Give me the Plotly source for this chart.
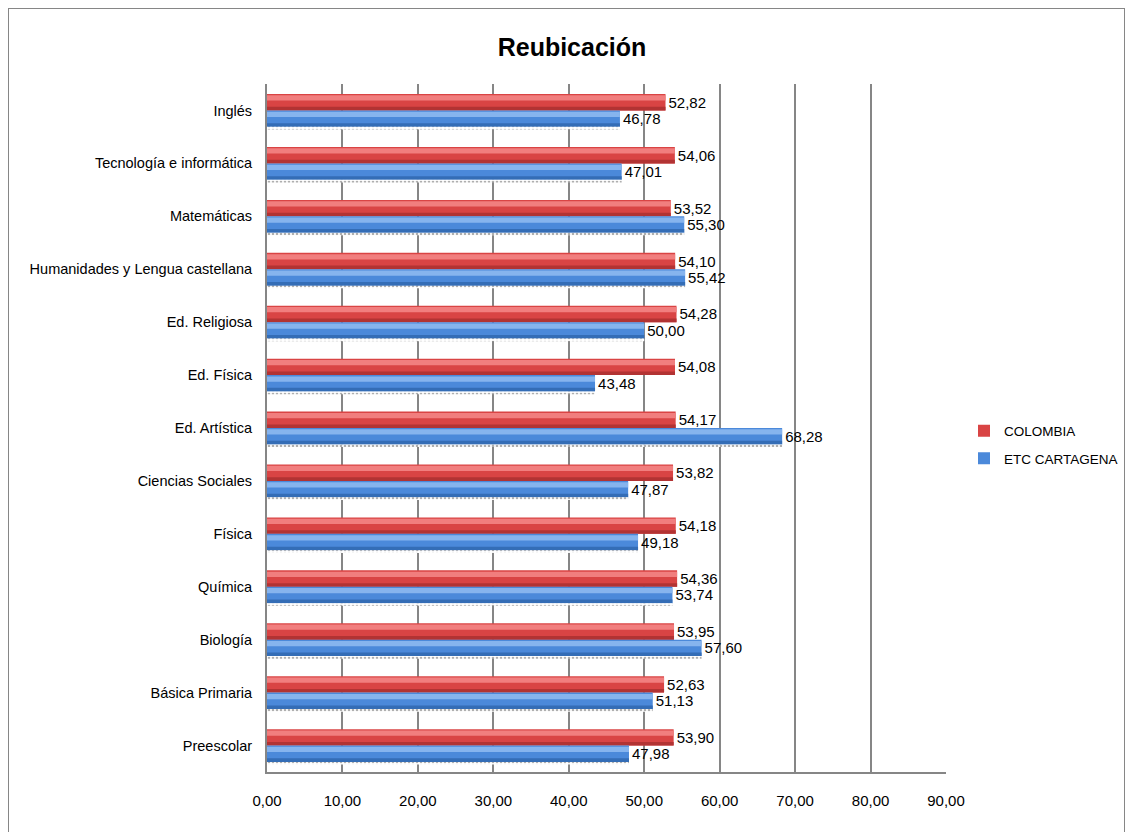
import plotly.graph_objects as go

categories = ["Inglés", "Tecnología e informática", "Matemáticas",
              "Humanidades y Lengua castellana", "Ed. Religiosa", "Ed. Física",
              "Ed. Artística", "Ciencias Sociales", "Física", "Química",
              "Biología", "Básica Primaria", "Preescolar"]
colombia = [52.82, 54.06, 53.52, 54.10, 54.28, 54.08, 54.17, 53.82, 54.18,
            54.36, 53.95, 52.63, 53.90]
cartagena = [46.78, 47.01, 55.30, 55.42, 50.00, 43.48, 68.28, 47.87, 49.18,
             53.74, 57.60, 51.13, 47.98]
tick_vals = [0, 10, 20, 30, 40, 50, 60, 70, 80, 90]

FONT = "Liberation Sans, Arial, sans-serif"

# the page body has an 8px margin: figure coordinates = screen - 8
OFF = 8
W, H = 1133 - OFF, 832 - OFF
L, R, T, B = 267 - OFF, 946 - OFF, 84 - OFF, 772 - OFF
pw, ph = R - L, B - T

BW = 0.31
fig = go.Figure()

def add_bar(vals, name, color, offset, width, showlegend=False, text=False, marker_extra=None):
    fig.add_trace(go.Bar(
        y=categories, x=vals, orientation="h", name=name,
        marker=dict(color=color, line=dict(width=0), **(marker_extra or {})),
        offset=offset, width=width, showlegend=showlegend,
        legendgroup=name,
        text=vals if text else None,
        texttemplate="%{x:.2f}" if text else None,
        textposition="outside" if text else "none",
        constraintext="none",
        textfont=dict(family=FONT, size=15, color="#000000"),
        cliponaxis=False,
        hoverinfo="skip" if not showlegend else None,
    ))

# COLOMBIA (red, upper bar)
add_bar(colombia, "COLOMBIA", "#D94444", 0.0, BW, showlegend=True, text=True)
add_bar(colombia, "COLOMBIA", "#F17E7E", BW * 0.60, BW * 0.32)
add_bar(colombia, "COLOMBIA", "#B23333", 0.0, BW * 0.22)
# ETC CARTAGENA (blue, lower bar)
add_bar(cartagena, "ETC CARTAGENA", "#4B89DA", -BW, BW, showlegend=True, text=True)
add_bar(cartagena, "ETC CARTAGENA", "#86B4EE", -BW + BW * 0.60, BW * 0.32)
add_bar(cartagena, "ETC CARTAGENA", "#346DB6", -BW, BW * 0.22)
# dotted shadow under the bars
add_bar(cartagena, "ETC CARTAGENA", "#FFFFFF", -BW - 0.05, 0.05,
        marker_extra=dict(pattern=dict(shape=".", fgcolor="#606060",
                                       bgcolor="#FFFFFF", size=4, solidity=0.35)))

fig.update_layout(
    width=W, height=H,
    margin=dict(l=L, r=W - R, t=T, b=H - B, pad=0, autoexpand=False),
    paper_bgcolor="#FFFFFF", plot_bgcolor="#FFFFFF",
    barmode="overlay",
    separators=",.",
    font=dict(family=FONT, size=15, color="#000000"),
    title=dict(text="<b>Reubicación</b>", x=(572 - OFF) / W, xref="container",
               xanchor="center", y=1 - (47 - OFF) / H, yref="container",
               yanchor="middle",
               font=dict(family=FONT, size=25, color="#000000")),
    legend=dict(x=(964 - OFF - L) / pw, y=(B - (445 - OFF)) / ph,
                xanchor="left", yanchor="middle",
                font=dict(family=FONT, size=13.5, color="#000000"),
                bgcolor="rgba(0,0,0,0)", itemwidth=30, tracegroupgap=7),
    xaxis=dict(range=[0, 90], tickvals=tick_vals, tickformat=".2f",
               showgrid=True, gridcolor="#868686", gridwidth=2,
               showline=True, linecolor="#868686", linewidth=2,
               ticks="outside", ticklen=14, tickcolor="rgba(0,0,0,0)",
               zeroline=False, fixedrange=True,
               tickfont=dict(family=FONT, size=15, color="#000000")),
    yaxis=dict(categoryorder="array", categoryarray=categories[::-1],
               showgrid=False, showline=True, linecolor="#868686", linewidth=2,
               ticks="outside", ticklen=10, tickcolor="rgba(0,0,0,0)",
               fixedrange=True,
               tickfont=dict(family=FONT, size=14.5, color="#000000")),
    shapes=[dict(type="rect", xref="paper", yref="paper",
                 x0=(0 - L) / pw, x1=(1125 - OFF - L) / pw,
                 y0=(B - 860) / ph, y1=(B - 0) / ph,
                 line=dict(color="#868686", width=2), fillcolor="rgba(0,0,0,0)",
                 layer="below")],
)

fig.write_html("out.html")
